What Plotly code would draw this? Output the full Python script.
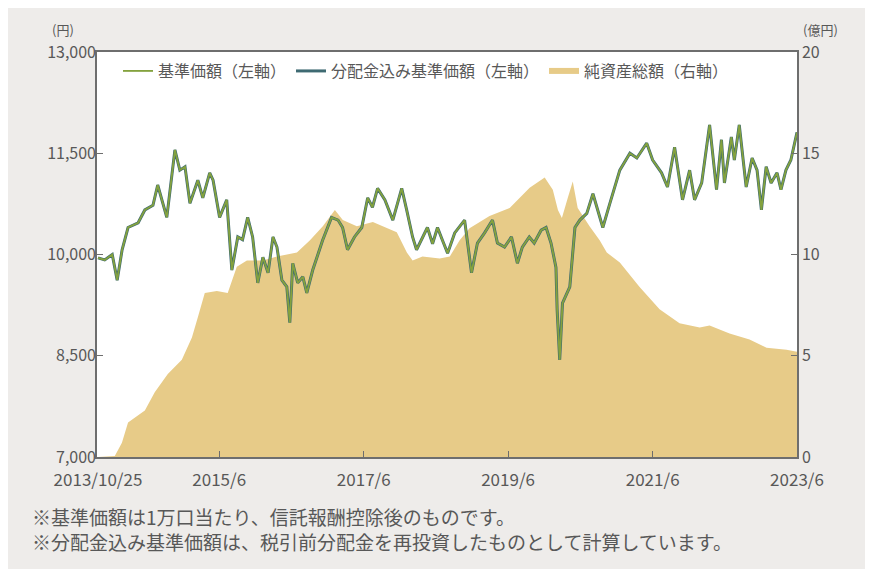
import plotly.graph_objects as go

# ---- data ----
nav_dates = [
    "2013-10-25", "2013-11-28", "2014-01-05", "2014-01-30", "2014-02-24", "2014-03-26",
    "2014-05-16", "2014-06-19", "2014-07-30", "2014-08-23", "2014-10-08", "2014-11-18",
    "2014-12-13", "2015-01-08", "2015-02-02", "2015-03-14", "2015-04-08", "2015-05-13",
    "2015-05-30", "2015-07-02", "2015-08-07", "2015-09-02", "2015-10-02", "2015-10-26",
    "2015-11-21", "2015-12-16", "2016-01-11", "2016-02-06", "2016-03-03", "2016-03-28",
    "2016-04-17", "2016-05-12", "2016-06-06", "2016-06-21", "2016-07-06", "2016-07-31",
    "2016-08-26", "2016-09-15", "2016-10-15", "2016-12-04", "2017-01-18", "2017-02-20",
    "2017-03-15", "2017-04-09", "2017-05-14", "2017-06-20", "2017-07-20", "2017-08-13",
    "2017-09-08", "2017-10-15", "2017-11-24", "2018-01-08", "2018-02-02", "2018-03-04",
    "2018-03-24", "2018-04-23", "2018-05-18", "2018-06-13", "2018-07-08", "2018-08-02",
    "2018-08-28", "2018-10-03", "2018-11-22", "2018-12-27", "2019-01-26", "2019-03-03",
    "2019-04-12", "2019-05-07", "2019-06-12", "2019-07-17", "2019-08-16", "2019-09-10",
    "2019-10-15", "2019-11-09", "2019-12-14", "2020-01-08", "2020-02-02", "2020-02-27",
    "2020-03-04", "2020-03-17", "2020-03-31", "2020-05-07", "2020-06-02", "2020-06-27",
    "2020-08-01", "2020-09-01", "2020-09-26", "2020-10-21", "2020-11-26", "2021-01-15",
    "2021-03-07", "2021-04-11", "2021-05-31", "2021-06-30", "2021-08-14", "2021-09-13",
    "2021-10-19", "2021-11-28", "2022-01-03", "2022-01-28", "2022-03-05", "2022-04-14",
    "2022-05-19", "2022-06-13", "2022-06-28", "2022-08-02", "2022-08-17", "2022-09-11",
    "2022-10-16", "2022-11-15", "2022-12-10", "2023-01-01", "2023-01-25", "2023-02-19",
    "2023-03-21", "2023-04-10", "2023-05-05", "2023-05-30", "2023-06-30",
]
nav = [
    9950, 9920, 10000, 9620, 10070, 10400,
    10470, 10660, 10730, 11030, 10550, 11550,
    11250, 11300, 10760, 11100, 10840, 11210,
    11100, 10550, 10810, 9770, 10260, 10220,
    10550, 10260, 9580, 9960, 9730, 10260,
    10110, 9620, 9520, 8990, 9870, 9580,
    9670, 9430, 9770, 10210, 10550, 10510,
    10400, 10070, 10260, 10400, 10840, 10700,
    10980, 10810, 10510, 10980, 10660, 10260,
    10070, 10260, 10400, 10160, 10400, 10210,
    10020, 10320, 10510, 9730, 10170, 10320,
    10510, 10170, 10110, 10260, 9870, 10110,
    10260, 10170, 10360, 10400, 10170, 9810,
    9180, 8440, 9280, 9520, 10400, 10510,
    10610, 10900, 10660, 10400, 10760, 11250,
    11500, 11430, 11650, 11400, 11210, 11000,
    11590, 10810, 11250, 10810, 11060, 11920,
    10960, 11700, 11060, 11740, 11400, 11920,
    11000, 11430, 11250, 10660, 11300, 11060,
    11210, 10960, 11250, 11400, 11810,
]
# 分配金込み基準価額: overlaps the NAV line exactly in the picture
nav_with_dist = [
    9950, 9920, 10000, 9620, 10070, 10400,
    10470, 10660, 10730, 11030, 10550, 11550,
    11250, 11300, 10760, 11100, 10840, 11210,
    11100, 10550, 10810, 9770, 10260, 10220,
    10550, 10260, 9580, 9960, 9730, 10260,
    10110, 9620, 9520, 8990, 9870, 9580,
    9670, 9430, 9770, 10210, 10550, 10510,
    10400, 10070, 10260, 10400, 10840, 10700,
    10980, 10810, 10510, 10980, 10660, 10260,
    10070, 10260, 10400, 10160, 10400, 10210,
    10020, 10320, 10510, 9730, 10170, 10320,
    10510, 10170, 10110, 10260, 9870, 10110,
    10260, 10170, 10360, 10400, 10170, 9810,
    9180, 8440, 9280, 9520, 10400, 10510,
    10610, 10900, 10660, 10400, 10760, 11250,
    11500, 11430, 11650, 11400, 11210, 11000,
    11590, 10810, 11250, 10810, 11060, 11920,
    10960, 11700, 11060, 11740, 11400, 11920,
    11000, 11430, 11250, 10660, 11300, 11060,
    11210, 10960, 11250, 11400, 11810,
]

asset_dates = [
    "2013-10-25", "2014-01-18", "2014-02-23", "2014-03-26", "2014-06-19", "2014-08-08",
    "2014-10-13", "2014-12-23", "2015-02-12", "2015-03-14", "2015-04-18", "2015-06-18",
    "2015-08-12", "2015-09-27", "2015-11-17", "2016-02-06", "2016-04-17", "2016-07-27",
    "2016-10-01", "2016-12-05", "2017-02-04", "2017-03-16", "2017-05-26", "2017-08-15",
    "2017-10-04", "2017-12-14", "2018-02-03", "2018-03-04", "2018-04-23", "2018-07-19",
    "2018-09-08", "2018-10-28", "2018-12-17", "2019-03-28", "2019-07-08", "2019-10-17",
    "2020-01-01", "2020-02-11", "2020-03-08", "2020-03-28", "2020-04-27", "2020-05-22",
    "2020-06-16", "2020-08-15", "2020-10-05", "2020-11-10", "2021-01-15", "2021-04-25",
    "2021-08-04", "2021-11-13", "2022-02-23", "2022-04-14", "2022-07-24", "2022-11-02",
    "2023-01-27", "2023-05-08", "2023-06-30",
]
net_assets = [
    0.0, 0.05, 0.7, 1.7, 2.3, 3.2,
    4.1, 4.8, 5.9, 6.9, 8.1, 8.2,
    8.1, 9.4, 9.7, 9.7, 9.9, 10.1,
    10.7, 11.4, 12.2, 11.7, 11.4, 11.6,
    11.4, 11.1, 10.1, 9.7, 9.9, 9.8,
    9.9, 10.7, 11.3, 11.9, 12.3, 13.3,
    13.8, 13.2, 12.2, 11.8, 12.8, 13.6,
    12.3, 11.4, 10.7, 10.1, 9.6, 8.4,
    7.3, 6.6, 6.4, 6.5, 6.1, 5.8,
    5.4, 5.3, 5.2,
]

x_tick_vals = ["2013-10-25", "2015-06-30", "2017-06-30", "2019-06-30", "2021-06-30", "2023-06-30"]
x_tick_text = ["2013/10/25", "2015/6", "2017/6", "2019/6", "2021/6", "2023/6"]
left_ticks = [7000, 8500, 10000, 11500, 13000]
right_ticks = [0, 5, 10, 15, 20]

name_nav = "基準価額（左軸）"
name_dist = "分配金込み基準価額（左軸）"
name_assets = "純資産総額（右軸）"
notes = [
    "※基準価額は1万口当たり、信託報酬控除後のものです。",
    "※分配金込み基準価額は、税引前分配金を再投資したものとして計算しています。",
]

# ---- styles ----
FONT = "Noto Sans CJK JP"
TXT = "#585858"
BG = "#eeecea"
AXIS = "#6e6e6e"
GREEN = "#84a23e"
BLUE = "#3e6a72"
BEIGE = "#e7cb88"

fig = go.Figure()
# area on the (right-side) base axis so that lines on the overlaying axis sit above it
fig.add_trace(go.Scatter(
    x=asset_dates, y=net_assets, name=name_assets, mode="none",
    fill="tozeroy", fillcolor=BEIGE, yaxis="y", legendrank=3,
))
fig.add_trace(go.Scatter(
    x=nav_dates, y=nav_with_dist, name=name_dist, mode="lines",
    line=dict(color=BLUE, width=3), yaxis="y2", legendrank=2,
))
fig.add_trace(go.Scatter(
    x=nav_dates, y=nav, name=name_nav, mode="lines",
    line=dict(color=GREEN, width=1.8), yaxis="y2", legendrank=1,
))

fig.update_layout(
    width=865, height=561,
    margin=dict(l=89, r=76, t=44, b=112),
    paper_bgcolor=BG, plot_bgcolor="white",
    font=dict(family=FONT, color=TXT, size=17),
    showlegend=True,
    legend=dict(
        orientation="h", x=0.03, y=0.995, xanchor="left", yanchor="top",
        bgcolor="rgba(0,0,0,0)", font=dict(size=16, color=TXT),
        itemwidth=30,
    ),
    xaxis=dict(
        type="date", range=["2013-10-20", "2023-06-30"],
        tickvals=x_tick_vals, ticktext=x_tick_text,
        ticks="inside", ticklen=6, tickcolor=AXIS,
        showline=True, linecolor=AXIS, linewidth=1.5, mirror=True,
        showgrid=False, zeroline=False, tickfont=dict(size=17),
        ticklabelstandoff=7,
    ),
    yaxis=dict(
        range=[0, 20], tickvals=right_ticks, side="right",
        ticks="inside", ticklen=6, tickcolor=AXIS,
        showline=True, linecolor=AXIS, linewidth=1.5, mirror=True,
        showgrid=False, zeroline=False, tickfont=dict(size=16),
    ),
    yaxis2=dict(
        range=[7000, 13000], tickvals=left_ticks, tickformat=",d",
        overlaying="y", side="left",
        ticks="inside", ticklen=6, tickcolor=AXIS,
        showline=False, showgrid=False, zeroline=False, tickfont=dict(size=16),
    ),
    annotations=[
        dict(text="(円)", xref="paper", yref="paper", x=-0.03, y=1.028,
             xanchor="right", yanchor="bottom", showarrow=False, font=dict(size=13)),
        dict(text="(億円)", xref="paper", yref="paper", x=1.062, y=1.028,
             xanchor="right", yanchor="bottom", showarrow=False, font=dict(size=13)),
        dict(text=notes[0] + "<br>" + notes[1], xref="paper", yref="paper",
             x=-0.096, y=-0.178, xanchor="left", yanchor="middle", align="left",
             showarrow=False, font=dict(size=19)),
    ],
)

fig.write_html("out.html")
